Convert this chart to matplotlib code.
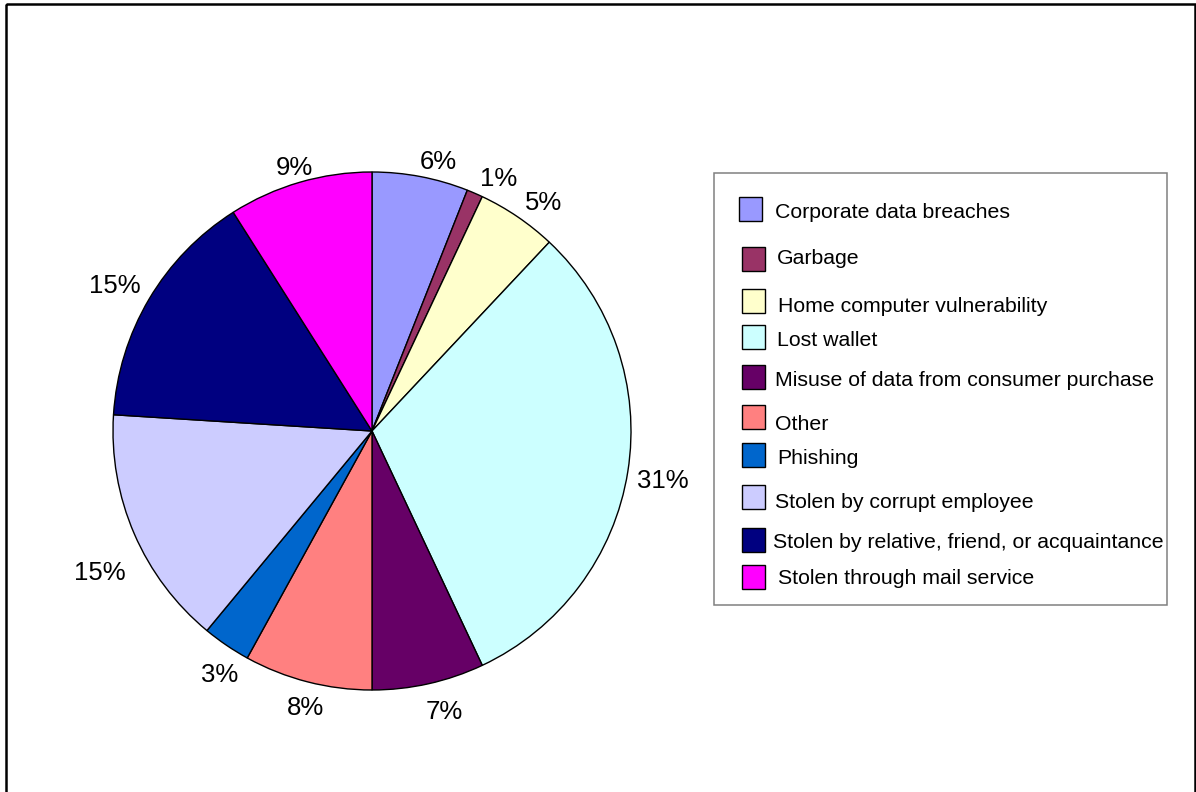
"""
Identity theft sources: pie of shares with a boxed legend on the right.
"""
import numpy as np
import matplotlib
matplotlib.use("Agg")
import matplotlib.pyplot as plt
from matplotlib.patches import Rectangle

categories = [
    "Corporate data breaches",
    "Garbage",
    "Home computer vulnerability",
    "Lost wallet",
    "Misuse of data from consumer purchase",
    "Other",
    "Phishing",
    "Stolen by corrupt employee",
    "Stolen by relative, friend, or acquaintance",
    "Stolen through mail service",
]
shares = [6, 1, 5, 31, 7, 8, 3, 15, 15, 9]
colors = ["#9999FF", "#993366", "#FFFFCC", "#CCFFFF", "#660066",
          "#FF8080", "#0066CC", "#CCCCFF", "#000080", "#FF00FF"]

# label placement: distance from centre (in radii) and clockwise nudge (deg)
label_r = [1.069, 1.088, 1.10, 1.14, 1.12, 1.10, 1.11, 1.185, 1.14, 1.06]
label_nudge = [3.0, 3.2, 2.7, 0.7, -1.8, -0.9, -2.2, -4.2, -1.1, -0.3]

# legend layout in pixels (y measured from the top)
box_x = [739, 742, 742, 742, 742, 742, 742, 742, 742, 742]
box_y = [209, 259, 301, 337, 377, 417, 455, 497, 540, 577]
text_x = [775, 777, 778, 777, 775, 775, 777, 775, 773, 778]
text_y = [210, 257, 305, 338, 378, 423, 457, 500, 540, 577]

W, H = 1196, 792
CX, CY, R = 372, 431, 259


def main():
    plt.rcParams["font.family"] = ["Liberation Sans", "DejaVu Sans"]

    fig = plt.figure(figsize=(W / 100, H / 100), dpi=100)
    fig.patch.set_facecolor("white")

    # background axes in pixel units for border and legend
    bg = fig.add_axes([0, 0, 1, 1])
    bg.set_xlim(0, W)
    bg.set_ylim(H, 0)
    bg.axis("off")

    ax = fig.add_axes([(CX - R) / W, (H - CY - R) / H, 2 * R / W, 2 * R / H])
    wedges, _ = ax.pie(shares, colors=colors, startangle=90, counterclock=False,
                       radius=1.0,
                       wedgeprops=dict(edgecolor="black", linewidth=1.0))
    ax.set_xlim(-1, 1)
    ax.set_ylim(-1, 1)
    ax.set_aspect("equal")
    ax.axis("off")

    for w, v, r, dn in zip(wedges, shares, label_r, label_nudge):
        mid = np.deg2rad((w.theta1 + w.theta2) / 2 - dn)
        ax.text(r * np.cos(mid), r * np.sin(mid), f"{v}%",
                ha="center", va="center", fontsize=18.5, color="black",
                clip_on=False)

    # outer chart border
    bg.add_patch(Rectangle((5.7, 4.0), 1188.8, 800, fill=False,
                           edgecolor="black", linewidth=1.8, clip_on=False))

    # legend frame
    bg.add_patch(Rectangle((713.5, 172.7), 453, 432.3, fill=False,
                           edgecolor="#808080", linewidth=1.1))
    for lab, c, bx, by, tx, ty in zip(categories, colors, box_x, box_y,
                                      text_x, text_y):
        bg.add_patch(Rectangle((bx, by - 12), 23, 24, facecolor=c,
                               edgecolor="black", linewidth=1.0))
        bg.text(tx, ty + 2, lab, ha="left", va="center", fontsize=15.3,
                color="black")

    fig.savefig("out.png", dpi=100)
    plt.close(fig)


if __name__ == "__main__":
    main()
